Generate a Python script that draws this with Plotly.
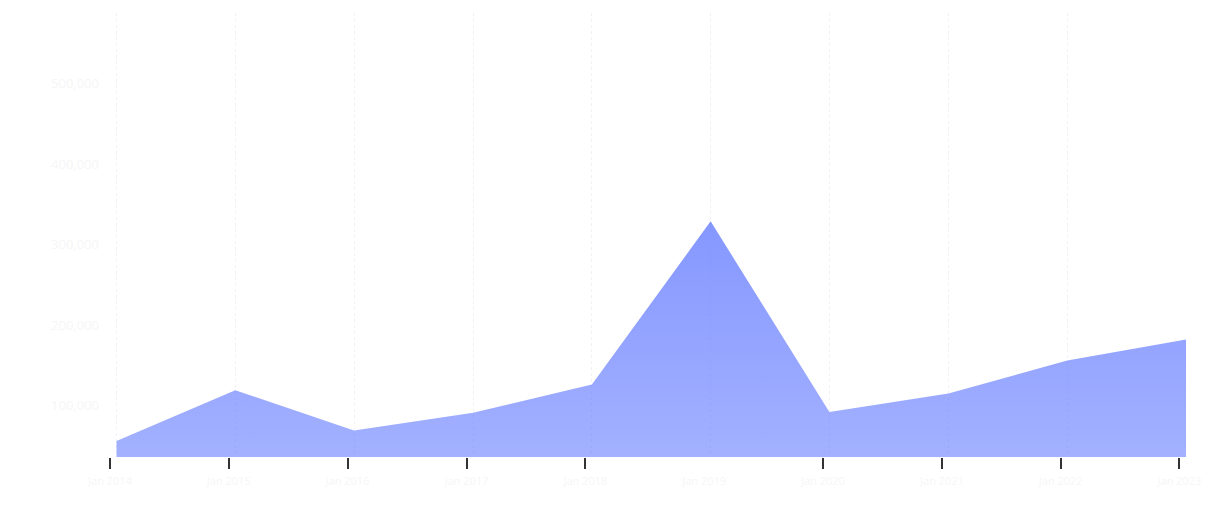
import plotly.graph_objects as go

# Data
dates = ["2014-01-21", "2015-01-21", "2016-01-21", "2017-01-21", "2018-01-21",
         "2019-01-21", "2020-01-21", "2021-01-21", "2022-01-21", "2023-01-21"]
values = [56000, 119000, 69000, 91000, 126000, 329000, 92000, 115000, 156000, 182000]
tick_dates = ["2014-01-01", "2015-01-01", "2016-01-01", "2017-01-01", "2018-01-01",
              "2019-01-01", "2020-01-01", "2021-01-01", "2022-01-01", "2023-01-01"]
tick_labels = ["Jan 2014", "Jan 2015", "Jan 2016", "Jan 2017", "Jan 2018",
               "Jan 2019", "Jan 2020", "Jan 2021", "Jan 2022", "Jan 2023"]
tick_marks = [d for d in tick_dates if d != "2019-01-01"]
y_ticks = [100000, 200000, 300000, 400000, 500000]
y_range = [36000, 588000]

x_range = [tick_dates[0], dates[-1]]
faint = "#f6f6f6"

fig = go.Figure()
fig.add_trace(go.Scatter(
    x=dates, y=values, mode="lines",
    line=dict(width=0, color="rgba(90,115,255,0.75)"),
    fill="tozeroy",
    fillgradient=dict(
        type="vertical",
        start=y_range[0], stop=max(values),
        colorscale=[[0, "rgba(90,115,255,0.56)"], [1, "rgba(90,115,255,0.74)"]],
    ),
    hoverinfo="skip", showlegend=False,
))
# invisible trace on the overlay axis to carry data-point gridlines
fig.add_trace(go.Scatter(x=dates, y=values, xaxis="x2", mode="none",
                         hoverinfo="skip", showlegend=False))

fig.update_layout(
    width=1204, height=512,
    margin=dict(l=102, r=26, t=5, b=63),
    paper_bgcolor="white", plot_bgcolor="white",
    font=dict(family="Open Sans", size=11, color=faint),
    xaxis=dict(
        type="date", range=x_range,
        tickmode="array", tickvals=tick_dates, ticktext=tick_labels,
        ticks="outside", ticklen=11, tickcolor="rgba(0,0,0,0)",
        ticklabelstandoff=3,
        showgrid=False, zeroline=False, showline=False,
        tickfont=dict(color=faint, size=11),
        minor=dict(tickmode="array", tickvals=tick_marks, ticks="outside",
                   ticklen=11, tickwidth=1.5, tickcolor="#333333", showgrid=False),
    ),
    xaxis2=dict(
        type="date", range=x_range, overlaying="x",
        tickmode="array", tickvals=dates, showticklabels=False, ticks="",
        showgrid=True, gridcolor="#f0f0f6", griddash="dot", gridwidth=1,
        zeroline=False, showline=False,
    ),
    yaxis=dict(
        range=y_range, tickmode="array", tickvals=y_ticks,
        showgrid=False, zeroline=False, showline=False, ticks="",
        ticklabelstandoff=10,
        tickfont=dict(color=faint, size=13), tickformat=",d",
    ),
)

fig.write_html("out.html")
